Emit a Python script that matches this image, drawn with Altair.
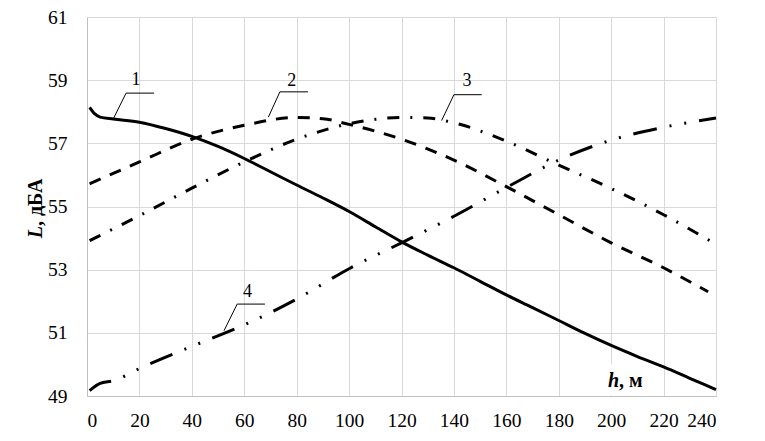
import altair as alt
import pandas as pd

# ---- data ----
h1 = [1, 3, 5, 10, 20, 30, 40, 50, 60, 70, 80, 90, 100, 110, 120, 130, 140, 150, 160, 170, 180, 190, 200, 210, 220, 230, 240]
L1 = [58.14, 57.93, 57.83, 57.77, 57.67, 57.47, 57.22, 56.9, 56.52, 56.1, 55.68, 55.27, 54.84, 54.36, 53.88, 53.46, 53.06, 52.63, 52.2, 51.8, 51.39, 50.98, 50.6, 50.25, 49.92, 49.56, 49.2]

h2 = [1, 20, 40, 60, 80, 90, 100, 120, 140, 160, 180, 200, 220, 237]
L2 = [55.72, 56.41, 57.13, 57.57, 57.82, 57.78, 57.6, 57.13, 56.47, 55.63, 54.74, 53.85, 53.06, 52.3]

h3 = [1, 20, 40, 60, 80, 100, 110, 120, 130, 140, 160, 180, 200, 220, 238]
L3 = [53.92, 54.71, 55.58, 56.41, 57.13, 57.62, 57.76, 57.82, 57.8, 57.65, 57.07, 56.31, 55.57, 54.74, 53.9]

h4 = [1, 5, 10, 20, 40, 60, 80, 100, 120, 140, 160, 180, 200, 220, 240]
L4 = [49.17, 49.4, 49.48, 49.87, 50.57, 51.25, 52.07, 53.03, 53.85, 54.69, 55.6, 56.47, 57.1, 57.51, 57.8]

x_ticks = list(range(0, 241, 20))
y_ticks = [49, 51, 53, 55, 57, 59, 61]

# curve labels and leader lines
lab_text = ["1", "2", "3", "4"]
lab_h = [18.7, 78.1, 145.0, 61.2]
lab_L = [58.84, 58.80, 58.80, 52.14]

lead_id = [1, 1, 1, 2, 2, 2, 3, 3, 3, 4, 4, 4]
lead_h = [10.0, 14.9, 25.6, 69.2, 73.6, 84.3, 135.3, 140.0, 150.6, 52.3, 57.3, 67.9]
lead_L = [57.77, 58.59, 58.59, 57.83, 58.63, 58.63, 57.72, 58.54, 58.54, 51.07, 51.91, 51.91]

# axis title "h, м" inside the plot
htitle_h = [203.0]
htitle_L = [49.29]
hbox_h = [197.3]
hbox_h2 = [215.5]
hbox_L = [49.03]
hbox_L2 = [50.0]

SERIF = "Liberation Serif"

xs = alt.Scale(domain=[0, 240], nice=False, zero=False)
ys = alt.Scale(domain=[49, 61], nice=False, zero=False)

x_axis = alt.Axis(values=x_ticks, title=None, labelPadding=15, grid=True,
                  labelFont=SERIF, labelFontSize=19.5, labelColor="black", ticks=False)
y_axis = alt.Axis(values=y_ticks, title=None, labelPadding=20, grid=True,
                  labelFont=SERIF, labelFontSize=19.5, labelColor="black", ticks=False)


def curve(h, L, dash):
    df = pd.DataFrame({"h": h, "L": L})
    mk = dict(color="black", strokeWidth=3, interpolate="monotone", strokeCap="butt")
    if dash:
        mk["strokeDash"] = dash
    return alt.Chart(df).mark_line(**mk).encode(
        x=alt.X("h:Q", scale=xs, axis=x_axis),
        y=alt.Y("L:Q", scale=ys, axis=y_axis),
    )


box = alt.Chart(pd.DataFrame({"x": hbox_h, "x2": hbox_h2, "y": hbox_L, "y2": hbox_L2})).mark_rect(
    color="white"
).encode(x=alt.X("x:Q", scale=xs, axis=x_axis), x2="x2:Q",
         y=alt.Y("y:Q", scale=ys, axis=y_axis), y2="y2:Q")

c1 = curve(h1, L1, None)
c2 = curve(h2, L2, [12, 10])
c3 = curve(h3, L3, [12, 11, 2, 11])
c4 = curve(h4, L4, [24, 13, 2, 13, 2, 13])

leaders = alt.Chart(pd.DataFrame({"id": lead_id, "h": lead_h, "L": lead_L})).mark_line(
    color="black", strokeWidth=1
).encode(x=alt.X("h:Q", scale=xs), y=alt.Y("L:Q", scale=ys), detail="id:N", order=alt.Order("h:Q"))

labels = alt.Chart(pd.DataFrame({"t": lab_text, "h": lab_h, "L": lab_L})).mark_text(
    font=SERIF, fontSize=18, color="black", align="center", baseline="alphabetic"
).encode(x=alt.X("h:Q", scale=xs), y=alt.Y("L:Q", scale=ys), text="t:N")

ht_df = pd.DataFrame({"h": htitle_h, "L": htitle_L, "a": ["h"], "b": [", м"]})
ht_a = alt.Chart(ht_df).mark_text(
    font=SERIF, fontSize=20, fontWeight="bold", fontStyle="italic", color="black",
    align="right", baseline="alphabetic"
).encode(x=alt.X("h:Q", scale=xs), y=alt.Y("L:Q", scale=ys), text="a:N")
ht_b = alt.Chart(ht_df).mark_text(
    font=SERIF, fontSize=20, fontWeight="bold", color="black",
    align="left", baseline="alphabetic"
).encode(x=alt.X("h:Q", scale=xs), y=alt.Y("L:Q", scale=ys), text="b:N")

yt_df = pd.DataFrame({"a": ["L"], "b": [", дБА"]})
yt_a = alt.Chart(yt_df).mark_text(
    font=SERIF, fontSize=20, fontWeight="bold", fontStyle="italic", color="black",
    align="right", baseline="alphabetic", angle=270
).encode(x=alt.value(-45), y=alt.value(209), text="a:N")
yt_b = alt.Chart(yt_df).mark_text(
    font=SERIF, fontSize=20, fontWeight="bold", color="black",
    align="left", baseline="alphabetic", angle=270
).encode(x=alt.value(-45), y=alt.value(209), text="b:N")

chart = alt.layer(box, c1, c2, c3, c4, leaders, labels, ht_a, ht_b, yt_a, yt_b).properties(
    width=629,
    height=379,
    autosize=alt.AutoSizeParams(type="none"),
    padding={"left": 79, "top": 9, "right": 20, "bottom": 45},
    background="white",
).configure_view(
    stroke="#d9d9d9"
).configure_axis(
    gridColor="#d9d9d9",
    gridWidth=1,
    domainColor="#c0c0c0",
    domainWidth=1,
    ticks=False,
    labelFont=SERIF,
    labelFontSize=19.5,
    labelColor="black",
)

chart.save("out.html", embed_options={"renderer": "svg", "actions": False})
